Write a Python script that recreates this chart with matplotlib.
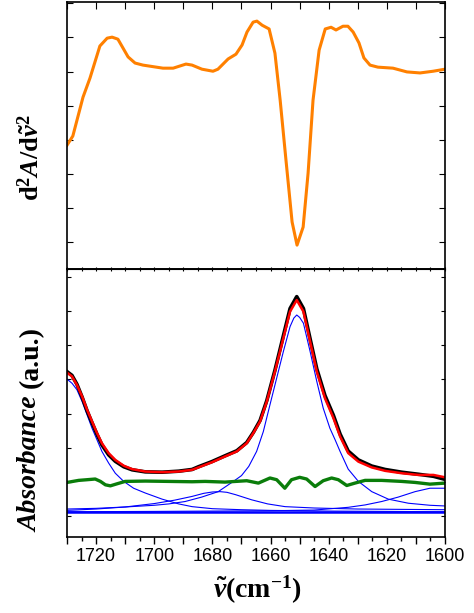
import matplotlib
matplotlib.use("Agg")
import matplotlib.pyplot as plt
from matplotlib.ticker import MultipleLocator, FuncFormatter

plt.rcParams["font.family"] = ["Liberation Sans", "DejaVu Sans"]
plt.rcParams["mathtext.fontset"] = "custom"
plt.rcParams["mathtext.rm"] = "Liberation Serif:bold"
plt.rcParams["mathtext.bf"] = "Liberation Serif:bold"
plt.rcParams["mathtext.it"] = "Liberation Serif:italic:bold"

# ---- top panel: second derivative ----
wn_d2 = [1730, 1728.0, 1724.5, 1722.1, 1718.7, 1716.2, 1714.5, 1712.5, 1709.0, 1706.6,
         1703.9, 1697.0, 1693.5, 1689.1, 1687.0, 1683.6, 1679.8, 1678.1, 1674.6, 1671.9,
         1669.8, 1668.1, 1666.0, 1664.7, 1662.9, 1660.5, 1658.5, 1656.7, 1654.7, 1652.6,
         1650.9, 1648.8, 1647.1, 1645.4, 1643.3, 1641.2, 1639.2, 1637.5, 1635.1, 1633.4,
         1631.6, 1629.6, 1627.9, 1625.8, 1623.1, 1617.9, 1613.1, 1608.6, 1604.1, 1600.0]
d2 = [2.84, 3.11, 4.25, 4.81, 5.75, 5.98, 6.01, 5.95, 5.43, 5.25,
      5.19, 5.10, 5.10, 5.22, 5.19, 5.07, 5.01, 5.07, 5.37, 5.51,
      5.78, 6.16, 6.45, 6.48, 6.36, 6.25, 5.54, 4.16, 2.40, 0.59,
      -0.09, 0.44, 2.02, 4.16, 5.63, 6.25, 6.30, 6.22, 6.33, 6.33,
      6.16, 5.84, 5.40, 5.19, 5.13, 5.10, 4.99, 4.96, 5.01, 5.07]

# ---- bottom panel: measured spectrum and fit ----
wn_abs = [1730, 1728.3, 1726.6, 1724.8, 1723.1, 1721.4, 1719.7, 1718.0, 1715.7, 1713.4,
          1710.5, 1707.6, 1703.1, 1697.3, 1691.6, 1687.0, 1684.8, 1680.2, 1675.7, 1671.6,
          1668.2, 1665.9, 1663.6, 1661.3, 1658.5, 1655.6, 1653.3, 1651.0, 1648.7, 1646.4,
          1644.1, 1641.3, 1638.4, 1636.1, 1633.3, 1629.8, 1625.2, 1620.6, 1614.9, 1609.2,
          1604.0, 1600]
measured = [4.23, 4.12, 3.86, 3.48, 3.08, 2.73, 2.39, 2.08, 1.79, 1.60,
            1.44, 1.35, 1.29, 1.28, 1.31, 1.36, 1.44, 1.59, 1.76, 1.91,
            2.15, 2.45, 2.80, 3.38, 4.27, 5.28, 6.08, 6.43, 6.08, 5.19,
            4.31, 3.53, 2.95, 2.40, 1.90, 1.64, 1.46, 1.36, 1.28, 1.22,
            1.16, 1.07]
fitted = [4.20, 4.09, 3.84, 3.50, 3.11, 2.77, 2.43, 2.13, 1.84, 1.64,
          1.47, 1.37, 1.30, 1.28, 1.30, 1.35, 1.42, 1.57, 1.74, 1.89,
          2.13, 2.43, 2.77, 3.35, 4.23, 5.21, 5.99, 6.33, 5.99, 5.11,
          4.23, 3.45, 2.87, 2.33, 1.84, 1.59, 1.42, 1.32, 1.25, 1.20,
          1.20, 1.13]

# residual
wn_res = [1730, 1726.0, 1723.1, 1720.3, 1718.5, 1716.8, 1715.1, 1712.8, 1710.0, 1703.1,
          1687.0, 1682.5, 1675.7, 1668.2, 1664.2, 1660.2, 1657.9, 1655.1, 1652.8, 1650.0,
          1647.6, 1644.7, 1641.9, 1639.0, 1636.7, 1633.8, 1631.0, 1627.5, 1621.8, 1614.9,
          1610.3, 1605.2, 1600]
residual = [0.98, 1.04, 1.06, 1.08, 1.01, 0.91, 0.88, 0.94, 1.01, 1.02,
            1.00, 1.01, 0.99, 1.03, 0.96, 1.11, 1.06, 0.81, 1.06, 1.13,
            1.08, 0.86, 1.03, 1.11, 1.06, 0.89, 0.96, 1.04, 1.04, 1.01,
            0.98, 0.93, 0.96]

# fitted bands
wn_b1 = [1730, 1728.3, 1726.6, 1724.8, 1723.1, 1721.4, 1719.7, 1718.0, 1715.7, 1713.4,
         1710.5, 1707.1, 1703.1, 1697.3, 1691.6, 1687.0, 1680, 1670, 1660, 1640, 1620, 1600]
band_1730 = [4.01, 3.89, 3.70, 3.35, 2.96, 2.57, 2.23, 1.89, 1.55, 1.25,
             1.01, 0.81, 0.67, 0.49, 0.35, 0.27, 0.21, 0.18, 0.16, 0.14, 0.13, 0.12]

wn_b2 = [1730, 1720, 1710, 1700, 1693, 1687, 1683, 1680, 1677.4, 1675, 1672,
         1666.5, 1661, 1655, 1645, 1630, 1615, 1600]
band_1678 = [0.16, 0.20, 0.26, 0.36, 0.46, 0.57, 0.66, 0.70, 0.71, 0.69, 0.62,
             0.47, 0.35, 0.27, 0.23, 0.20, 0.19, 0.18]

wn_b3 = [1730, 1720, 1710, 1700, 1695, 1689.4, 1683.7, 1678.0, 1672.8, 1670.0,
         1667.5, 1664.8, 1662.5, 1660.2, 1657.9, 1655.6, 1653.3, 1652.0, 1651.0, 1650.0, 1648.7,
         1646.4, 1644.1, 1641.9, 1639.6, 1637.8, 1636.1, 1633.3, 1629.8, 1625.2, 1619.5,
         1612.6, 1605.2, 1600]
band_1651 = [0.20, 0.22, 0.26, 0.31, 0.35, 0.42, 0.55, 0.71, 1.01, 1.18,
             1.45, 1.89, 2.47, 3.26, 4.04, 4.82, 5.55, 5.80, 5.89, 5.82, 5.65,
             4.82, 3.94, 3.16, 2.57, 2.23, 1.89, 1.37, 1.01, 0.71, 0.49,
             0.37, 0.31, 0.29]

wn_b4 = [1730, 1700, 1680, 1660, 1645, 1633.3, 1627.5, 1621.8, 1616.1, 1610.3, 1605.2, 1600]
band_1602 = [0.12, 0.13, 0.14, 0.15, 0.17, 0.25, 0.32, 0.42, 0.55, 0.71, 0.81, 0.81]

wn_base = [1730, 1600]
baseline = [0.10, 0.10]

fig = plt.figure(figsize=(4.74, 6.13), dpi=100)
ax1 = fig.add_axes([0.1414, 0.5612, 0.7975, 0.4355])
ax2 = fig.add_axes([0.1414, 0.124, 0.7975, 0.4372])

ax1.plot(wn_d2, d2, color="#ff8000", lw=2.2)
ax1.set_xlim(1730, 1600)
ax1.set_ylim(-0.79, 7.04)
ax1.set_yticks(range(0, 8))
ax1.xaxis.set_major_locator(MultipleLocator(10))
ax1.tick_params(axis="x", which="both", top=True, bottom=False, direction="in",
                length=5, labelbottom=False)
ax1.tick_params(axis="y", left=True, right=True, direction="in", length=4,
                labelleft=False)

for wn, y in [(wn_b1, band_1730), (wn_b2, band_1678), (wn_b3, band_1651), (wn_b4, band_1602)]:
    ax2.plot(wn, y, color="#0000ff", lw=0.8)
ax2.plot(wn_base, baseline, color="#0000ff", lw=1.8)
ax2.plot(wn_res, residual, color="#0a7d0a", lw=2.4)
ax2.plot(wn_abs, measured, color="black", lw=2.6)
ax2.plot(wn_abs, fitted, color="#ff0000", lw=1.8)

ax2.set_xlim(1730, 1600)
ax2.set_ylim(-0.62, 7.24)
ax2.set_yticks(range(0, 8))
ax2.xaxis.set_major_locator(MultipleLocator(10))
ax2.xaxis.set_minor_locator(MultipleLocator(5))
ax2.xaxis.set_major_formatter(FuncFormatter(lambda v, p: "%d" % v if int(round(v)) % 20 == 0 else ""))
ax2.tick_params(axis="x", which="major", direction="out", length=5, width=1, labelsize=13, pad=3)
ax2.tick_params(axis="x", which="minor", direction="out", length=3, width=1)
ax2.tick_params(axis="y", left=True, right=True, direction="in", length=3,
                labelleft=False)
sec = ax2.secondary_xaxis("top")
sec.xaxis.set_major_locator(MultipleLocator(5))
sec.tick_params(direction="inout", length=3, labeltop=False)

for ax in (ax1, ax2):
    for s in ax.spines.values():
        s.set_linewidth(1.2)

fig.text(31 / 474, 1 - 158 / 613, r"$\mathrm{d}^2A/\mathrm{d}\tilde{\nu}^2$",
         rotation=90, ha="center", va="center", fontsize=19)
fig.text(31 / 474, 1 - 464 / 613, "Absorbance", family="Liberation Serif",
         weight="bold", style="italic", rotation=90, ha="center", va="center", fontsize=20)
fig.text(31 / 474, 1 - 357 / 613, "(a.u.)", family="Liberation Serif",
         weight="bold", rotation=90, ha="center", va="center", fontsize=20)
fig.text(257 / 474, 1 - 590 / 613, r"$\tilde{\nu}\mathrm{(cm^{-1})}$",
         ha="center", va="center", fontsize=20)

fig.savefig("out.png", dpi=100)
